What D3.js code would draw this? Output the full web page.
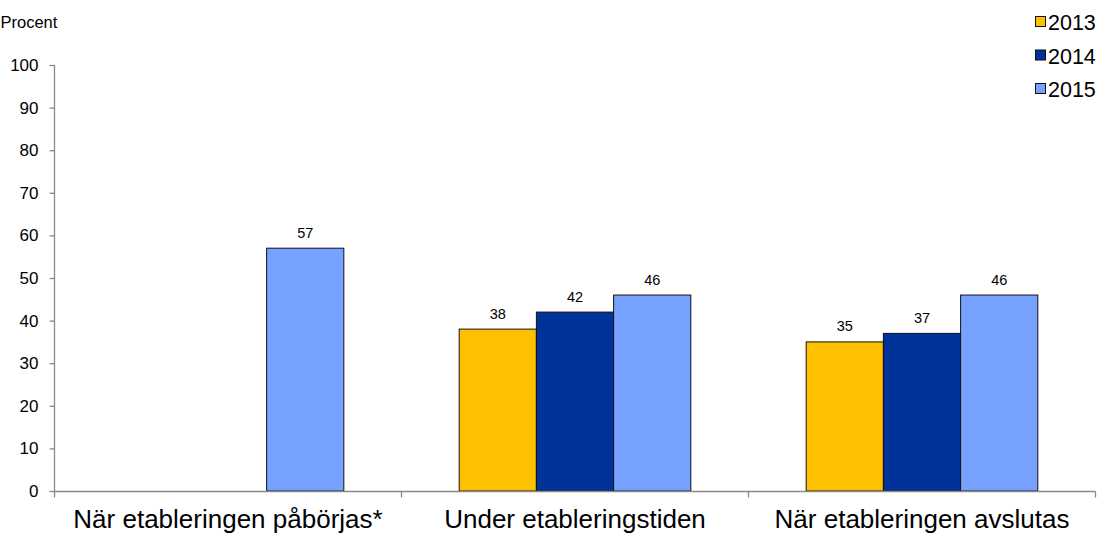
<!DOCTYPE html>
<html><head><meta charset="utf-8">
<script src="https://cdn.jsdelivr.net/npm/d3@7"></script>
<style>body{margin:0;background:#fff}svg{display:block;font-family:"Liberation Sans",Arial,sans-serif}</style>
</head><body>
<svg id="c" width="1105" height="534"></svg>
<script>
const categories = ["När etableringen påbörjas*", "Under etableringstiden", "När etableringen avslutas"];
const years = ["2013", "2014", "2015"];
const values2013 = [null, 38, 35];
const values2014 = [null, 42, 37];
const values2015 = [57, 46, 46];
const yTicks = [0,10,20,30,40,50,60,70,80,90,100];
const colors = ["#FFC000", "#003399", "#77A1FF"];

const series = [values2013, values2014, values2015];
const svg = d3.select("#c");
const x0 = d3.scaleBand().domain(categories).range([54.5, 1095.5]);
const x1 = d3.scaleBand().domain(years).range([0, x0.bandwidth()]).paddingOuter(0.747);
const y = d3.scaleLinear().domain([0,100]).range([491, 65]);

// y axis
const ya = svg.append("g").attr("transform","translate(54.5,0)")
  .call(d3.axisLeft(y).tickValues(yTicks).tickSize(5).tickPadding(11));
ya.selectAll("path,line").attr("stroke","#888").attr("stroke-width",1.3);
ya.select(".domain").attr("d","M0,"+y(100)+"V"+y(0));
ya.selectAll("text").attr("font-size","17px").attr("fill","#000").attr("font-family","Liberation Sans, Arial, sans-serif");

// bars
categories.forEach((c,i)=>{
  years.forEach((yr,j)=>{
    const v = series[j][i];
    if (v==null) return;
    svg.append("rect").attr("x", x0(c)+x1(yr)).attr("y", y(v))
      .attr("width", x1.bandwidth()).attr("height", y(0)-y(v))
      .attr("fill", colors[j]).attr("stroke","#111").attr("stroke-width",1);
    svg.append("text").attr("x", x0(c)+x1(yr)+x1.bandwidth()/2).attr("y", y(v)-10.5)
      .attr("text-anchor","middle").attr("font-size","14.5px").text(v);
  });
});

// x axis
const xa = svg.append("g").attr("transform","translate(0,491.5)");
xa.append("path").attr("d","M54.5,0H1095.5").attr("stroke","#888").attr("stroke-width",1.3);
[54.5, ...categories.map(c=>x0(c)+x0.bandwidth())].forEach(px=>{
  xa.append("line").attr("x1",px).attr("x2",px).attr("y1",0).attr("y2",6).attr("stroke","#888").attr("stroke-width",1.3);
});
categories.forEach(c=>{
  xa.append("text").attr("x", x0(c)+x0.bandwidth()/2).attr("y", 36)
    .attr("text-anchor","middle").attr("font-size","26px").text(c);
});

svg.append("text").attr("x",0.5).attr("y",28).attr("font-size","16.5px").text("Procent");

// legend
years.forEach((yr,j)=>{
  const g = svg.append("g").attr("transform",`translate(1035,${22+j*33.5})`);
  g.append("rect").attr("x",0.5).attr("y",-5.5).attr("width",10).attr("height",10)
    .attr("fill",colors[j]).attr("stroke","#111").attr("stroke-width",1);
  g.append("text").attr("x",13).attr("y",8).attr("font-size","21.5px").text(yr);
});
</script>
</body></html>
